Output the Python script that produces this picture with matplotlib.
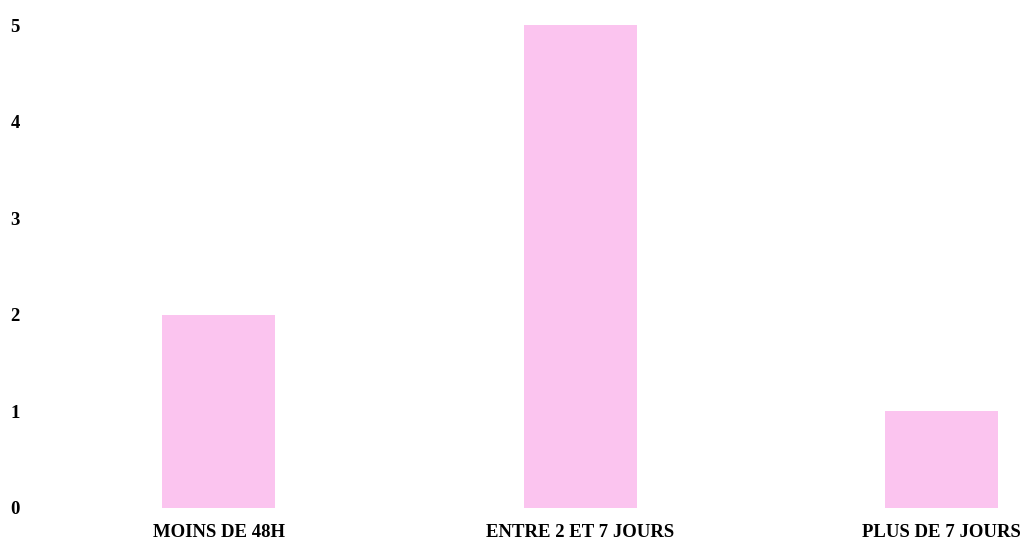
import numpy as np
import matplotlib.pyplot as plt

categories = ['MOINS DE 48H', 'ENTRE 2 ET 7 JOURS', 'PLUS DE 7 JOURS']
values = [2, 5, 1]
yticks = [0, 1, 2, 3, 4, 5]

plt.rcParams['font.family'] = ['Liberation Serif', 'DejaVu Serif']

fig = plt.figure(figsize=(10.26, 5.42), dpi=100)
ax = fig.add_axes([38 / 1026, 34 / 542, 988 / 1026, 483 / 542])

x = np.arange(len(categories))
ax.bar(x, values, width=0.3125, color='#fbc4ef')

ax.set_xlim(-0.5, 2.234)
ax.set_ylim(0, 5)
ax.set_xticks(x)
ax.set_xticklabels(categories, fontsize=13.5, fontweight='bold')
ax.set_yticks(yticks)
ax.set_yticklabels([str(t) for t in yticks], fontsize=13.5, fontweight='bold')
ax.tick_params(axis='both', length=0)
ax.tick_params(axis='y', pad=13)
ax.tick_params(axis='x', pad=11.5)
for s in ax.spines.values():
    s.set_visible(False)

fig.savefig('out.png', dpi=100)
